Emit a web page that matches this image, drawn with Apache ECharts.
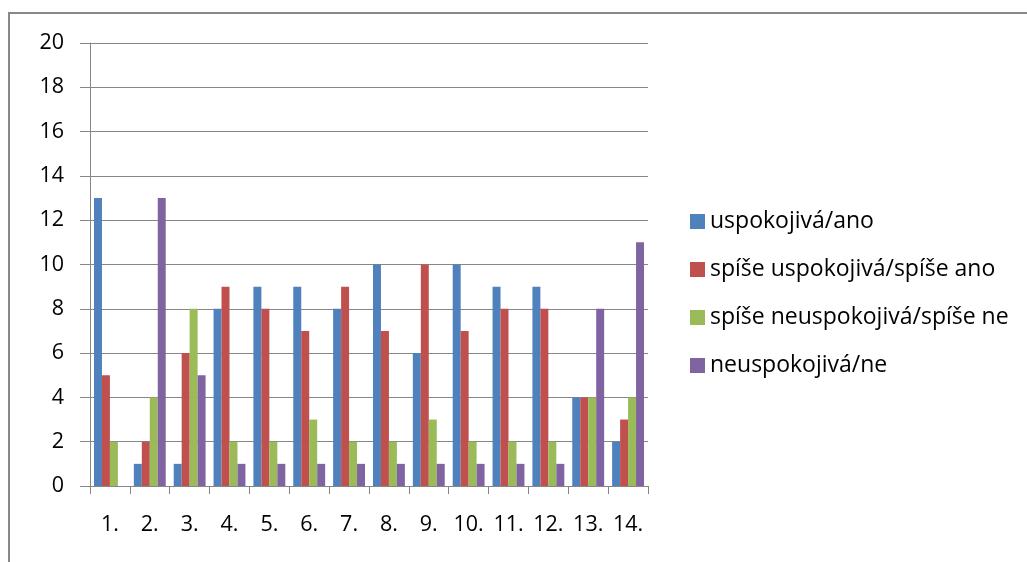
<!DOCTYPE html>
<html>
<head>
<meta charset="utf-8">
<script src="https://cdn.jsdelivr.net/npm/echarts@6/dist/echarts.min.js"></script>
<style>
html,body{margin:0;padding:0;background:#fff;}
#c{width:1027px;height:562px;}
</style>
</head>
<body>
<div id="c"></div>
<script>
const categories = ['1.','2.','3.','4.','5.','6.','7.','8.','9.','10.','11.','12.','13.','14.'];
const seriesNames = ['uspokojivá/ano','spíše uspokojivá/spíše ano','spíše neuspokojivá/spíše ne','neuspokojivá/ne'];
const uspokojiva = [13,1,1,8,9,9,8,10,6,10,9,9,4,2];
const spiseUspokojiva = [5,2,6,9,8,7,9,7,10,7,8,8,4,3];
const spiseNeuspokojiva = [2,4,8,2,2,3,2,2,3,2,2,2,4,4];
const neuspokojiva = [0,13,5,1,1,1,1,1,1,1,1,1,8,11];
const colors = ['#4F81BD','#C0504D','#9BBB59','#8064A2'];
const allData = [uspokojiva, spiseUspokojiva, spiseNeuspokojiva, neuspokojiva];

const font = '"Open Sans", sans-serif';
const chart = echarts.init(document.getElementById('c'));
chart.setOption({
  animation: false,
  color: colors,
  grid: {left: 90, right: 379, top: 43, bottom: 76, containLabel: false},
  legend: {
    orient: 'vertical',
    left: 685, top: 205,
    itemWidth: 15, itemHeight: 15, itemGap: 25,
    icon: 'rect',
    textStyle: {fontFamily: font, fontSize: 23, color: '#000', padding: [0,0,0,0]},
    data: seriesNames
  },
  xAxis: {
    type: 'category',
    data: categories,
    axisLine: {lineStyle: {color: '#868686', width: 1}},
    axisTick: {show: true, length: 8, lineStyle: {color: '#868686'}},
    axisLabel: {fontFamily: font, fontSize: 21.5, color: '#000', margin: 28}
  },
  yAxis: {
    type: 'value', min: 0, max: 20, interval: 2,
    axisLine: {show: true, lineStyle: {color: '#868686', width: 1}},
    axisTick: {show: true, inside: false, length: 10, lineStyle: {color: '#868686'}},
    splitLine: {lineStyle: {color: '#868686', width: 1}},
    axisLabel: {fontFamily: font, fontSize: 21.5, color: '#000', margin: 26}
  },
  series: allData.map((d, i) => ({
    name: seriesNames[i], type: 'bar', data: d,
    barGap: '0%', barCategoryGap: '20%',
    itemStyle: {color: colors[i]}
  })),
  graphic: [
    {type: 'line', shape: {x1: 8, y1: 13, x2: 1027, y2: 13}, style: {stroke: '#888', lineWidth: 2}},
    {type: 'line', shape: {x1: 9, y1: 12, x2: 9, y2: 562}, style: {stroke: '#888', lineWidth: 2}}
  ]
});
</script>
</body>
</html>
